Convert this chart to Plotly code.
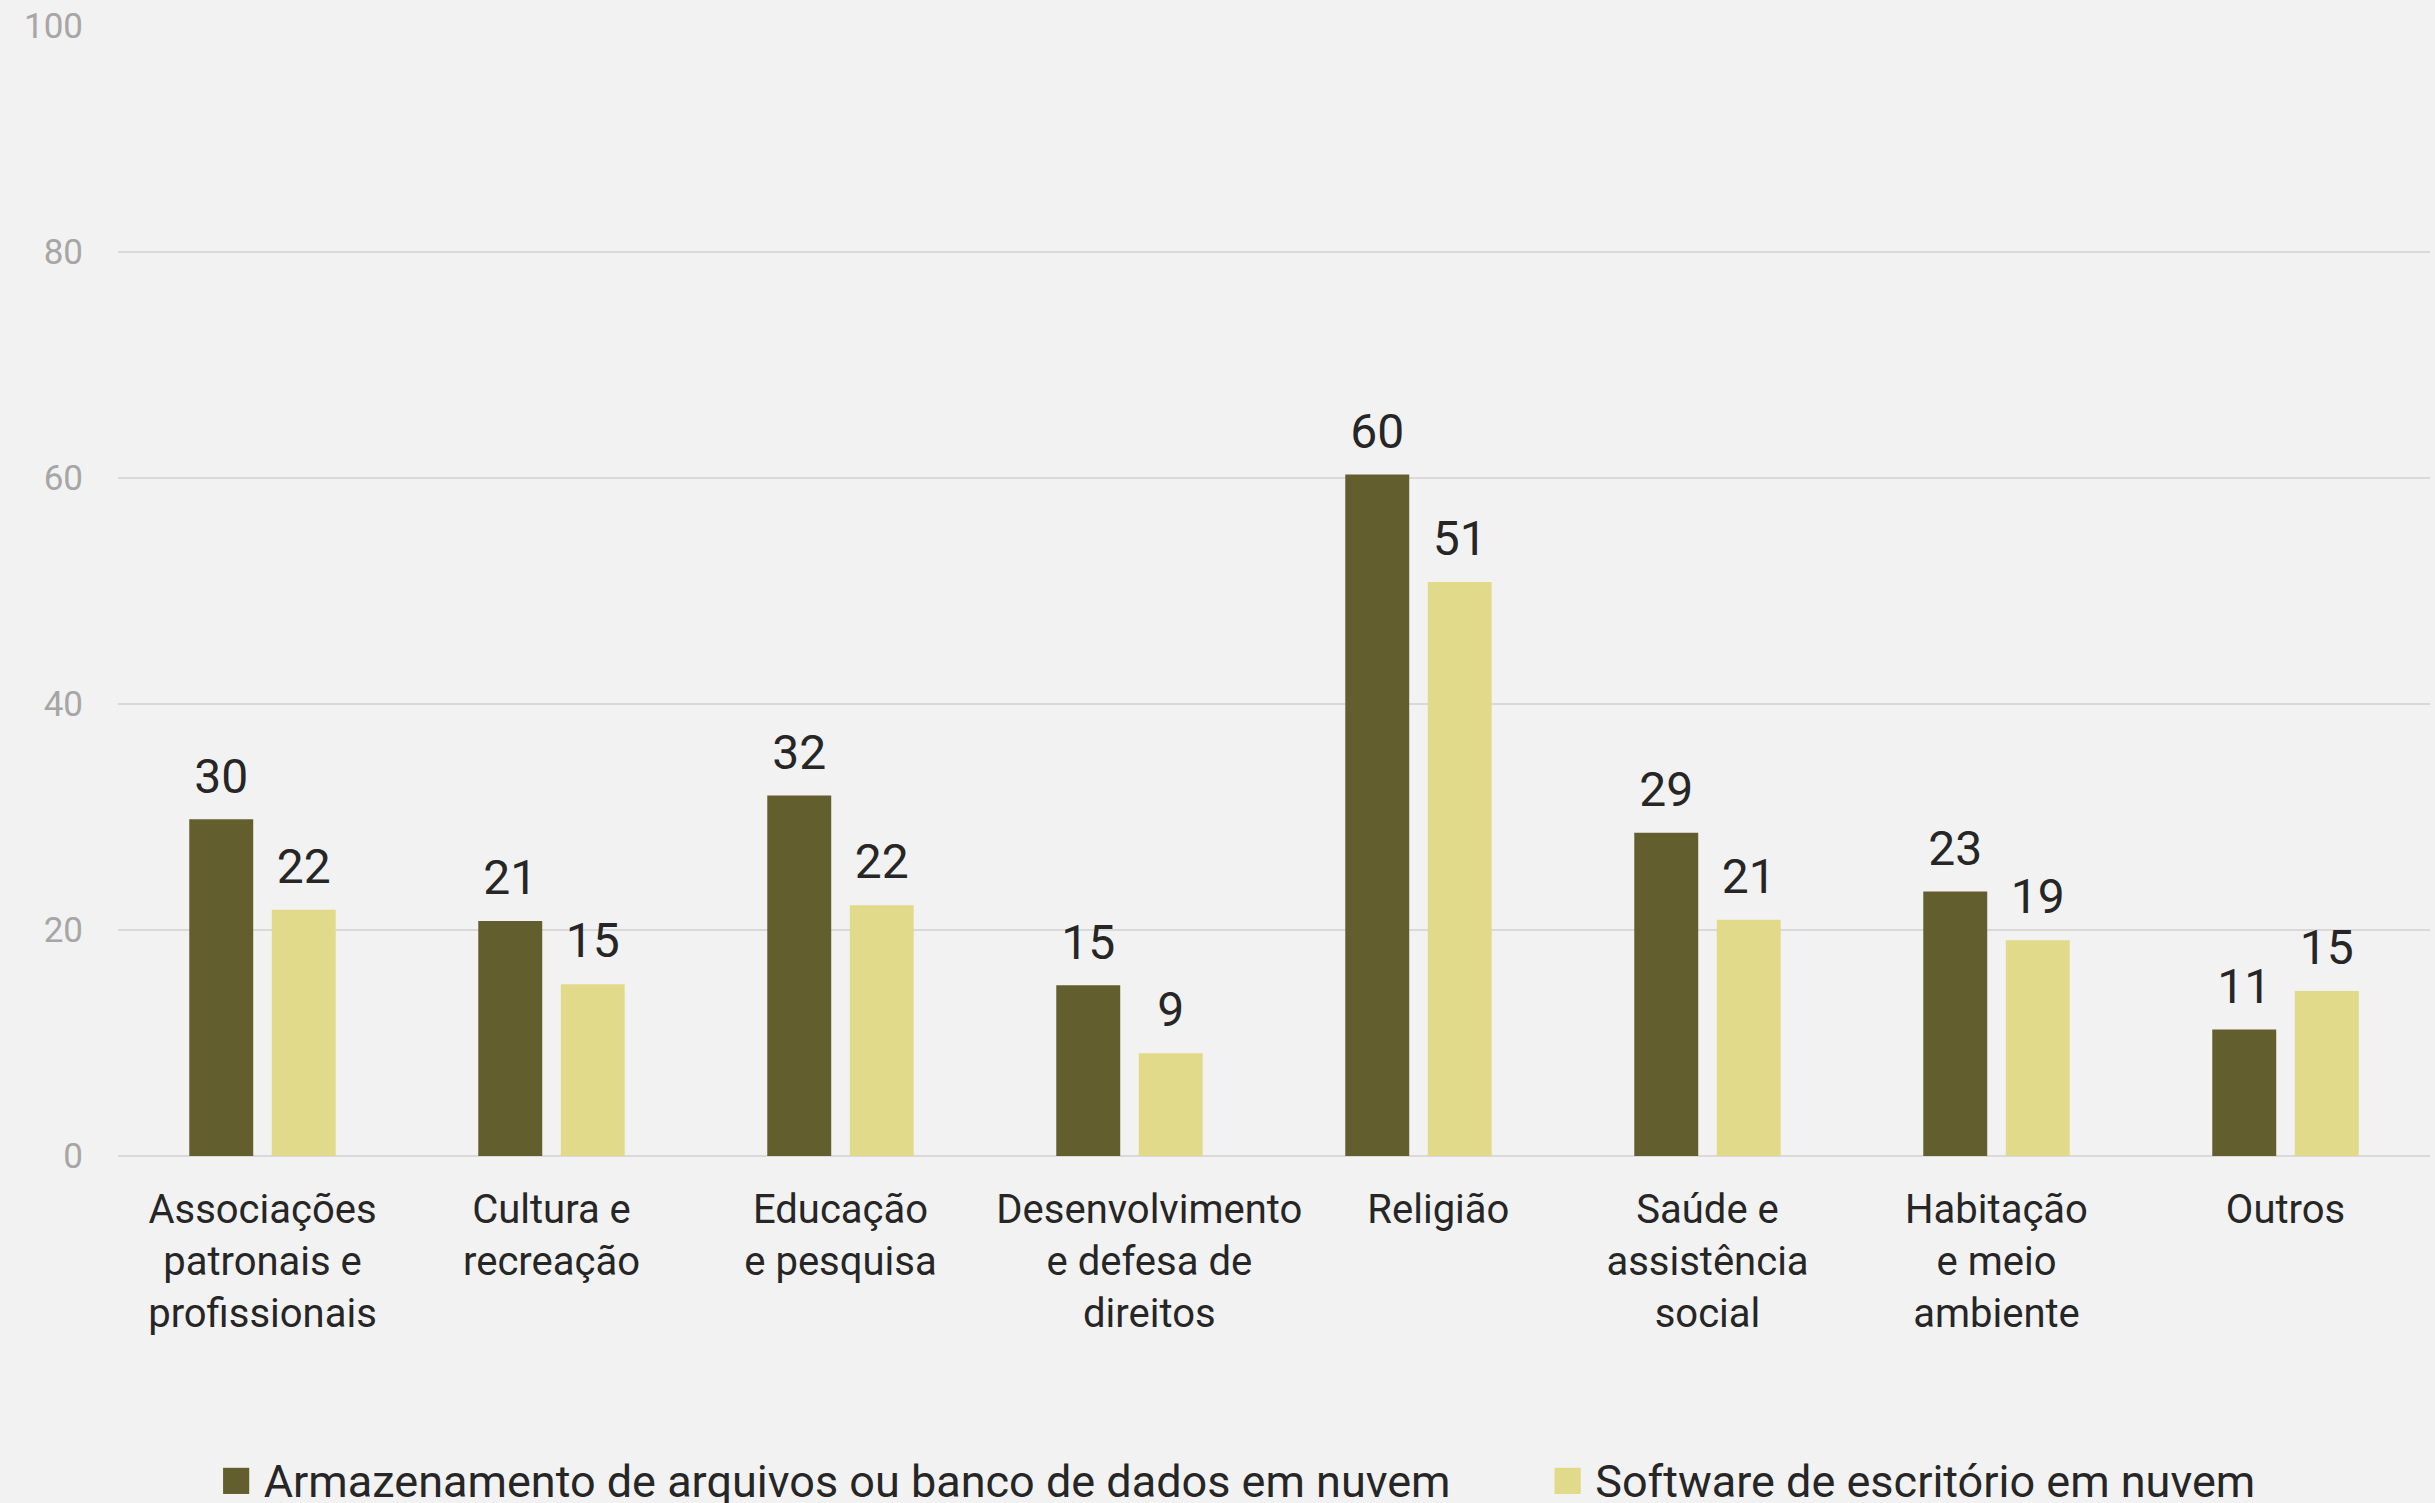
import plotly.graph_objects as go

categories = [
    "Associações patronais e profissionais",
    "Cultura e recreação",
    "Educação e pesquisa",
    "Desenvolvimento e defesa de direitos",
    "Religião",
    "Saúde e assistência social",
    "Habitação e meio ambiente",
    "Outros",
]
NB = "\u00a0\u00a0\u00a0\u00a0"
tick_labels = [
    "Associações<br>patronais e<br>profissionais",
    "Cultura e<br>recreação",
    "Educação<br>e pesquisa",
    f"{NB}Desenvolvimento<br>{NB}e defesa de<br>{NB}direitos",
    f"{NB}Religião",
    "Saúde e<br>assistência<br>social",
    "Habitação<br>e meio<br>ambiente",
    "Outros",
]
series_names = [
    "Armazenamento de arquivos ou banco de dados em nuvem",
    "Software de escritório em nuvem",
]
armazenamento = [29.8, 20.8, 31.9, 15.1, 60.3, 28.6, 23.4, 11.2]
software = [21.8, 15.2, 22.2, 9.1, 50.8, 20.9, 19.1, 14.6]
y_ticks = [0, 20, 40, 60, 80, 100]

colors = ["#635E2D", "#E0DA8A"]
series = [armazenamento, software]
groups = ["A", "B"]

FONT = "Roboto, Open Sans, sans-serif"
TXT = "#262626"

fig = go.Figure()
for vals, col, g in zip(series, colors, groups):
    fig.add_trace(go.Bar(
        x=categories, y=vals, marker=dict(color=col, line=dict(width=0)),
        offsetgroup=g, alignmentgroup="all", showlegend=False, hoverinfo="skip",
    ))
for vals, g in zip(series, groups):
    fig.add_trace(go.Scatter(
        x=categories, y=vals, mode="markers+text",
        text=[f"{v:.0f}" for v in vals], textposition="top center",
        textfont=dict(family=FONT, size=48, color=TXT),
        marker=dict(size=22, color="rgba(0,0,0,0)"),
        offsetgroup=g, alignmentgroup="all", showlegend=False, hoverinfo="skip",
        cliponaxis=False,
    ))
pads = ["\u00a0" * 5, ""]
for name, col, g, pad in zip(series_names, colors, groups, pads):
    fig.add_trace(go.Scatter(
        x=[None], y=[None], mode="markers",
        marker=dict(size=1, color="rgba(0,0,0,0)"),
        name=f"<span style='color:{col};font-size:54px'>■</span> {name}{pad}",
        offsetgroup=g, alignmentgroup="all", showlegend=True,
    ))

fig.update_layout(
    width=2435, height=1503,
    paper_bgcolor="#F2F2F2", plot_bgcolor="#F2F2F2",
    margin=dict(l=118, r=5, t=26, b=347, autoexpand=False),
    barmode="group", bargap=0.429, bargroupgap=0.225,
    scattermode="group", scattergap=0.429,
    font=dict(family=FONT, color=TXT),
    showlegend=True,
    legend=dict(
        orientation="h", x=0.0268, xanchor="left", y=-0.255, yanchor="top",
        font=dict(family=FONT, size=45, color=TXT),
        bgcolor="rgba(0,0,0,0)",
        itemclick=False, itemdoubleclick=False,
    ),
    xaxis=dict(
        tickmode="array", tickvals=categories, ticktext=tick_labels,
        tickfont=dict(family=FONT, size=40, color=TXT),
        showgrid=False, showline=False, ticks="", ticklabelstandoff=26,
    ),
    yaxis=dict(
        range=[0, 100], tickvals=y_ticks,
        tickfont=dict(family=FONT, size=35, color="#A6A6A6"),
        showgrid=True, gridcolor="#D9D9D9", gridwidth=2,
        zeroline=True, zerolinecolor="#D9D9D9", zerolinewidth=2,
        showline=False, ticks="", ticklabelstandoff=34,
    ),
)

fig.write_html(
    "out.html",
    config={"displayModeBar": False},
    post_script="document.body.style.margin='0';document.body.style.background='#F2F2F2';",
)
